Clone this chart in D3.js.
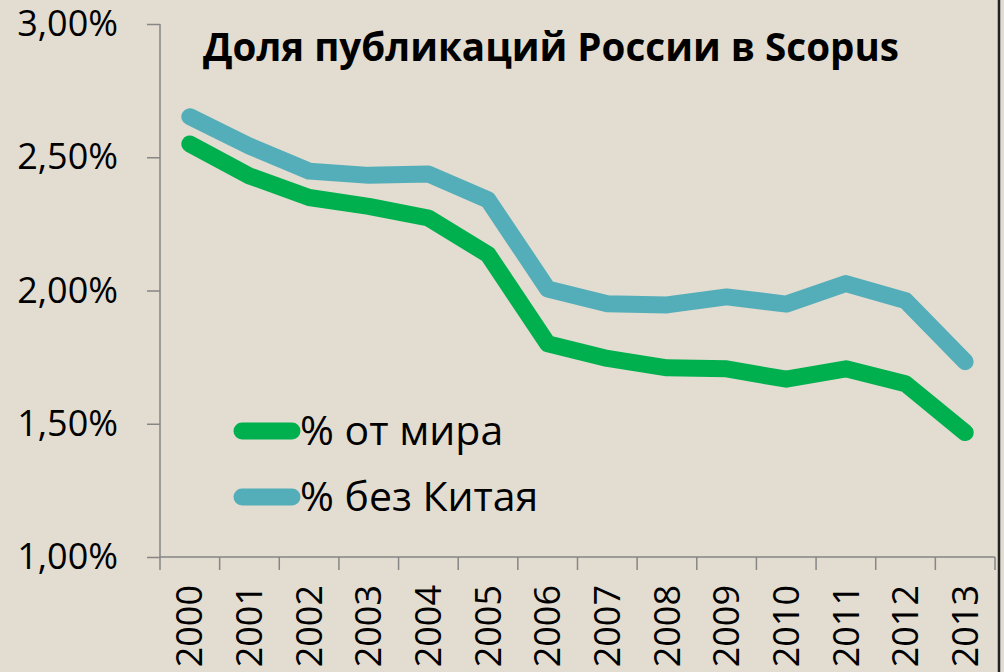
<!DOCTYPE html>
<html>
<head>
<meta charset="utf-8">
<script src="https://cdn.jsdelivr.net/npm/d3@7"></script>
<style>
  body {margin: 0; background: #e3dcd0;}
  svg {display: block;}
  .axis path, .axis line {stroke: #868686; stroke-width: 1.5;}
  .axis text {font-family: "Open Sans", sans-serif; font-size: 36px; fill: #000;}
</style>
</head>
<body>
<div id="chart"></div>
<script>
var years = ['2000', '2001', '2002', '2003', '2004', '2005', '2006', '2007', '2008', '2009', '2010', '2011', '2012', '2013']
var worldShare = [2.55, 2.43, 2.349, 2.316, 2.272, 2.135, 1.80, 1.745, 1.71, 1.706, 1.667, 1.706, 1.65, 1.467]
var noChinaShare = [2.652, 2.542, 2.448, 2.432, 2.437, 2.34, 2.006, 1.95, 1.946, 1.976, 1.949, 2.026, 1.962, 1.733]
var yTicks = [1.0, 1.5, 2.0, 2.5, 3.0]
var seriesNames = ['% от мира', '% без Китая']
var seriesColors = ['#00b04f', '#53aeba']
var title = 'Доля публикаций России в Scopus'

var w = 1004, h = 672
var svg = d3.select('#chart').append('svg')
    .attr('width', w)
    .attr('height', h)

svg.append('rect')
    .attr('width', w)
    .attr('height', h)
    .attr('fill', '#e3dcd0')

var x = d3.scaleBand().domain(years).range([160, 995]).padding(0)
var y = d3.scaleLinear().domain([1, 3]).range([557, 24])

var ru = d3.formatLocale({decimal: ',', thousands: ' ', grouping: [3], currency: ['', '']})
var fmt = ru.format('.2f')

// y axis
svg.append('g')
    .attr('class', 'axis axis--y')
    .attr('transform', 'translate(160,0)')
    .call(d3.axisLeft(y).tickValues(yTicks).tickSize(13).tickPadding(29)
      .tickFormat(function(d) {return fmt(d) + '%'}))
    .call(function(g) {g.select('.domain').attr('d', 'M0,' + y(3) + 'V' + y(1))})

// x axis: line + ticks at category boundaries
var xg = svg.append('g').attr('class', 'axis axis--x')
xg.append('path')
    .attr('d', 'M' + x.range()[0] + ',' + y(1) + 'H' + x.range()[1])
    .attr('fill', 'none')
var bounds = years.map(function(d) {return x(d)}).concat([x.range()[1]])
xg.selectAll('.tk').data(bounds).enter().append('line')
    .attr('class', 'tk')
    .attr('x1', function(d) {return d}).attr('x2', function(d) {return d})
    .attr('y1', y(1)).attr('y2', y(1) + 13)
xg.selectAll('.lbl').data(years).enter().append('text')
    .attr('class', 'lbl')
    .attr('transform', function(d) {return 'translate(' + (x(d) + x.bandwidth() / 2) + ',' + (y(1) + 28) + ') rotate(-90)'})
    .attr('text-anchor', 'end')
    .attr('dy', '0.35em')
    .text(function(d) {return d})

var line = d3.line()
    .x(function(d, i) {return x(years[i]) + x.bandwidth() / 2})
    .y(function(d) {return y(d)})

var series = [worldShare, noChinaShare]
svg.selectAll('.series').data(series).enter().append('path')
    .attr('class', 'series')
    .attr('d', function(d) {return line(d)})
    .attr('fill', 'none')
    .attr('stroke', function(d, i) {return seriesColors[i]})
    .attr('stroke-width', 17)
    .attr('stroke-linejoin', 'round')
    .attr('stroke-linecap', 'round')

// legend
var legend = svg.selectAll('.legend').data(seriesNames).enter().append('g')
    .attr('class', 'legend')
    .attr('transform', function(d, i) {return 'translate(0,' + (431 + i * 66) + ')'})
legend.append('line')
    .attr('x1', 242).attr('x2', 292)
    .attr('stroke', function(d, i) {return seriesColors[i]})
    .attr('stroke-width', 17)
    .attr('stroke-linecap', 'round')
legend.append('text')
    .attr('x', 300)
    .attr('y', 14)
    .style('font-family', '"Open Sans", sans-serif')
    .style('font-size', '41px')
    .text(function(d) {return d})

svg.append('text')
    .attr('x', 203)
    .attr('y', 61)
    .attr('textLength', 696)
    .attr('lengthAdjust', 'spacingAndGlyphs')
    .style('font-family', '"Open Sans", sans-serif')
    .style('font-size', '39px')
    .style('font-weight', 'bold')
    .text(title)

// slide edge
svg.append('line')
    .attr('x1', 999).attr('x2', 999)
    .attr('y1', 0).attr('y2', h)
    .attr('stroke', '#222')
    .attr('stroke-width', 2.5)
</script>
</body>
</html>
